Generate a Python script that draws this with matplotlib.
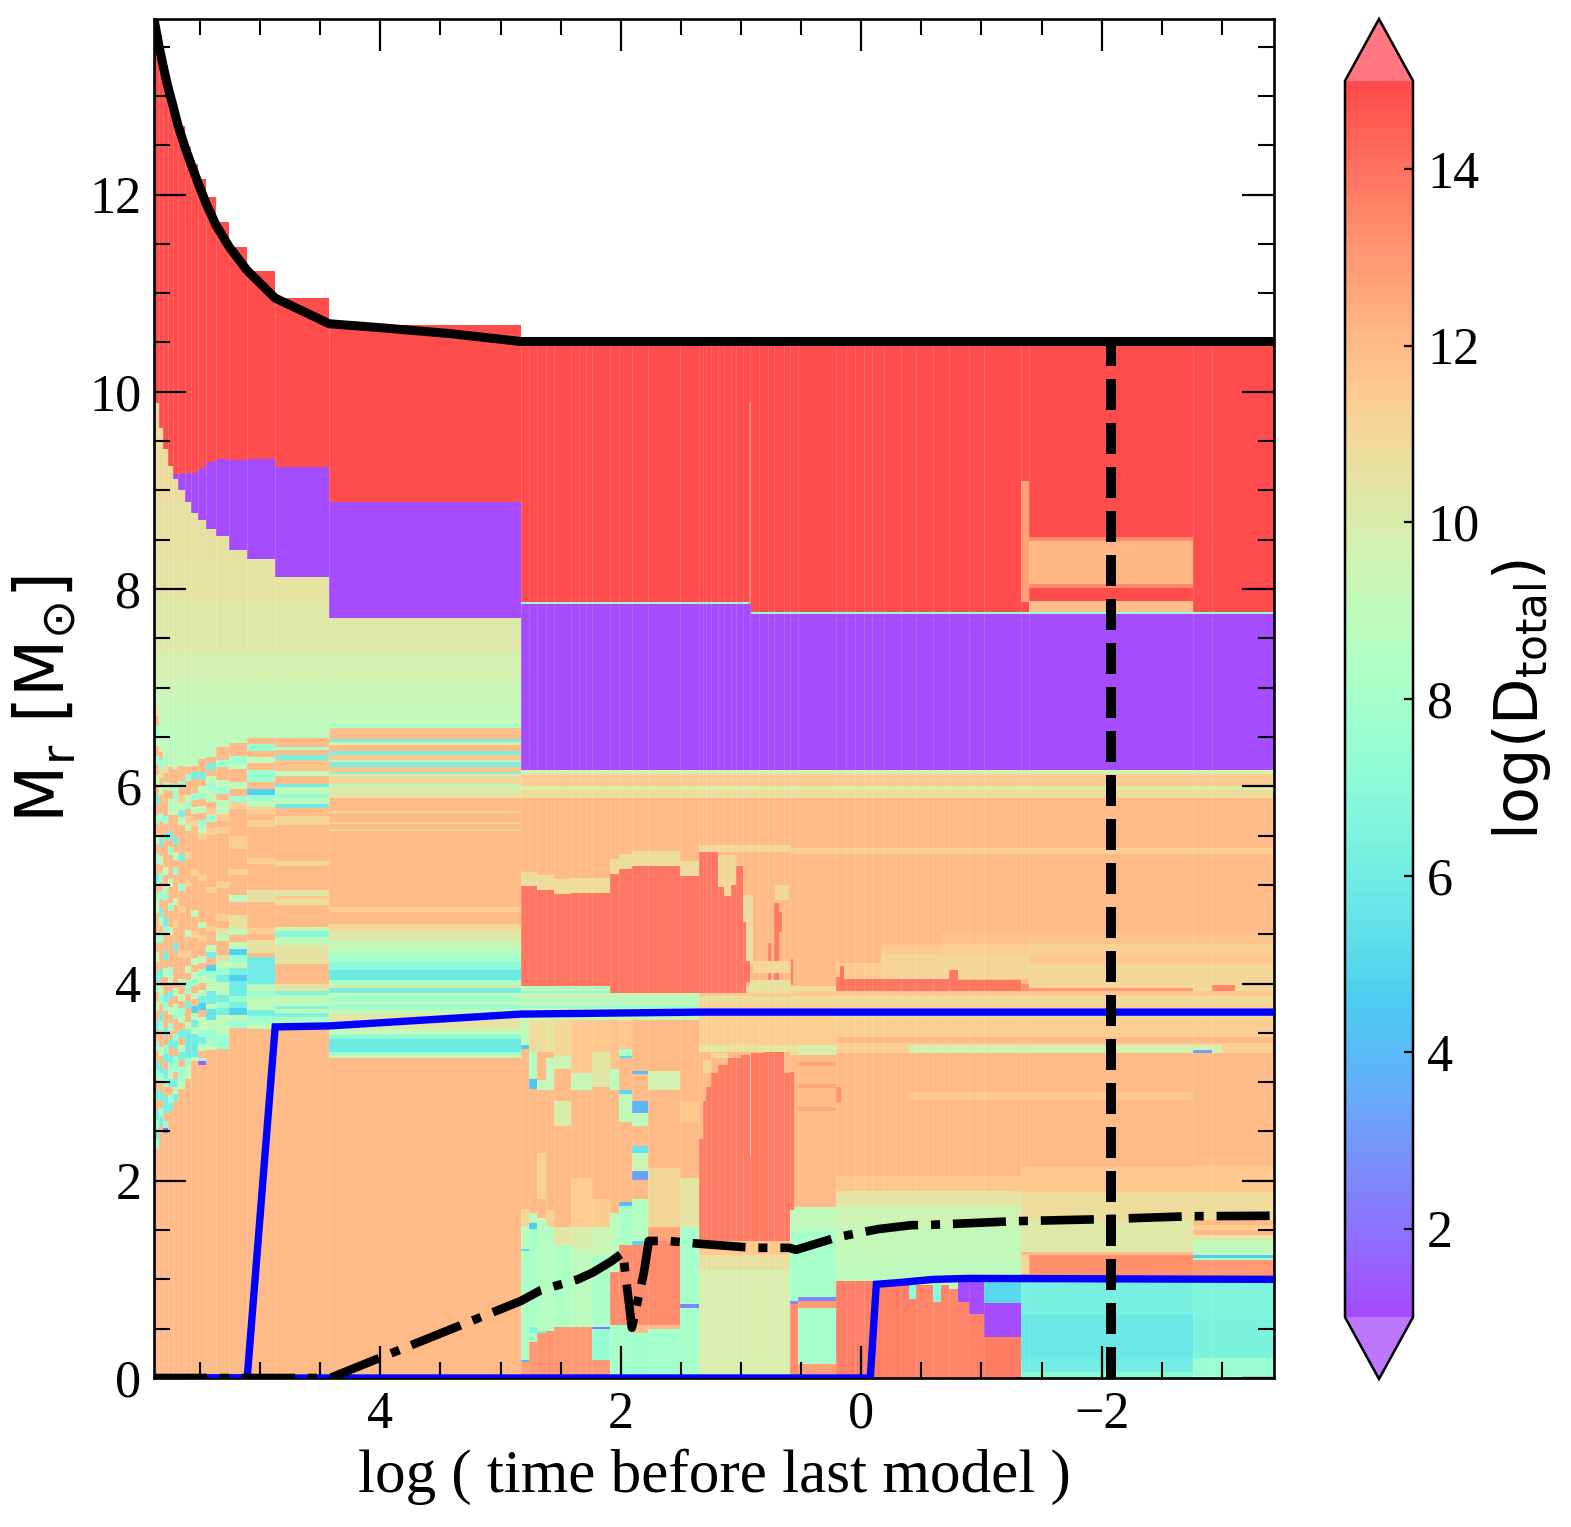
import numpy as np
import matplotlib
matplotlib.use('Agg')
import matplotlib.pyplot as plt
from matplotlib.ticker import MultipleLocator

plt.rcParams['font.family'] = ['Liberation Serif', 'DejaVu Sans']
plt.rcParams['mathtext.fontset'] = 'dejavusans'
plt.rcParams['axes.unicode_minus'] = True

# ---------------- line data ----------------
SURF_T = [5.883, 5.842, 5.808, 5.767, 5.725, 5.683, 5.625, 5.575, 5.517, 5.45, 5.367, 5.258, 5.108, 4.875, 4.425, 4.0, 3.42, 2.833, -3.433]
SURF_M = [13.78, 13.51, 13.31, 13.09, 12.90, 12.70, 12.48, 12.31, 12.12, 11.91, 11.69, 11.47, 11.23, 10.95, 10.69, 10.65, 10.59, 10.51, 10.51]
CO_T = [5.883, 5.108, 4.875, 4.425, 2.833, 1.35, -3.433]
CO_M = [0, 0, 3.56, 3.57, 3.69, 3.71, 3.71]
HE_T = [5.883, -0.075, -0.125, -0.333, -0.6, -0.9, -3.433]
HE_M = [0, 0, 0.95, 0.97, 1.0, 1.01, 1.0]
CORE_T = [5.883, 4.42, 2.833, 2.667, 2.358, 2.233, 2.083, 1.983, 1.908, 1.808, 1.767, 1.608, 1.333, 0.9, 0.6, 0.542, 0.192, -0.142, -0.417, -0.525, -1.275, -2.0, -2.725, -3.433]
CORE_M = [0, 0, 0.78, 0.89, 1.0, 1.07, 1.18, 1.27, 0.51, 1.07, 1.39, 1.39, 1.36, 1.32, 1.32, 1.30, 1.43, 1.51, 1.55, 1.55, 1.59, 1.61, 1.64, 1.645]
MARK_T = -2.08

# ---------------- diffusion map: left columns ----------------
LEFT_T = [5.883, 5.842, 5.808, 5.767, 5.725, 5.683, 5.625, 5.575, 5.517, 5.45, 5.367, 5.258, 5.108, 4.875, 4.425, 2.833]
LEFT_SURFACE = [13.78, 13.51, 13.31, 13.09, 12.90, 12.70, 12.48, 12.31, 12.16, 11.98, 11.72, 11.47, 11.22, 10.95, 10.68]
LEFT_RED_BOT = [9.89, 9.63, 9.42, 9.25, 9.17, 9.17, 9.18, 9.18, 9.23, 9.29, 9.32, 9.31, 9.32, 9.24, 8.88]
LEFT_PURPLE_BOT = [9.89, 9.63, 9.42, 9.25, 9.12, 9.00, 8.88, 8.77, 8.70, 8.61, 8.54, 8.40, 8.30, 8.12, 7.71]
LEFT_STRIPE_TOP = [6.81, 6.44, 6.39, 6.28, 6.25, 6.28, 6.27, 6.28, 6.28, 6.30, 6.40, 6.51, 6.49]
LEFT_STRIPE_BOT = [2.32, 2.47, 2.52, 2.63, 2.80, 2.93, 3.03, 3.14, 3.18, 3.33, 3.34, 3.48, 3.54]
STRIPE_CODES = {'p': 12.0, 'a': 7.6, 'c': 6.2, 'g': 9.0, 'y': 10.6, 'l': 11.3, 'b': 4.8}
LEFT_STRIPES = [
    'ypagpapgpcpapgpapcpagppapgpcapgpcpapcapcpcaca',
    'gpaypgppappcpgpapapcgpapppcpgapcappgpcapcpacp',
    'gaypgpppapcpppgpgappcappcpgppcappcpacpcapccpa',
    'gppapggppcpapppgppappgppppagpcpgpapcpcagcpacp',
    'gppgaggpppcpgpapppgpplppcpppppgpgappacpaapcgc',
    'gppaplgcgppppcpppapplppppplpppgpgpagpcpgcpaag',
    'gpappgaplgppplppplppppppgpplpgpaapcppgcpccagg',
    'gpcppapgplpppppplpppppgpplpppgpgapgpbgcgpcggp',
    'ppcpgapgpaglppppplppppppgplppgpagpgcbpggacgpa',
    'pcpgaggplaplpppppppplppppplppgcpbaggccgaggaag',
    'ppappgapgglplppppppplpppplpygppygacggcacgggaa',
    'gppagppgpalppppllppplpppgppyygpgbagcbggacbgap',
    'papgpaapbaglplppppplppppyypppplpyyppggagaggcag',
]
YELLOW_GREEN_BOTTOM = [9.6, 8.9, 8.3, 7.88, 7.37, 7.07, 6.86, 6.66, 6.46, 6.0]
YELLOW_GREEN_VALUE = [10.9, 10.8, 10.6, 10.5, 10.2, 9.8, 9.5, 9.2, 8.95, 8.8]
# (m_bottom, value), read downwards
COLUMN_13_TOP = 6.49
COLUMN_13_BANDS = [(6.40, 12), (6.37, 8), (6.32, 12), (6.27, 6.3), (6.15, 11.8), (6.10, 9), (6.02, 12),
                   (5.99, 6), (5.92, 9), (5.88, 7.5), (5.82, 9), (5.78, 6), (5.70, 12.0), (5.61, 11), (5.24, 12.0),
                   (5.19, 11), (4.95, 12.0), (4.89, 10.3), (4.86, 11.5), (4.80, 10.8), (4.57, 12.0), (4.53, 9.5),
                   (4.47, 6.8), (4.39, 9), (4.20, 10.6), (4.00, 12.0), (3.92, 10.5), (3.88, 6.5), (3.77, 9),
                   (3.74, 6.5), (3.70, 9), (3.66, 6.5), (3.56, 8.5), (0, 12.0)]
COLUMN_14_TOP = 6.63
COLUMN_14_BANDS = [(6.59, 8), (6.53, 11.8), (6.48, 12), (6.45, 6.3), (6.42, 10), (6.36, 12), (6.32, 6.3), (6.27, 11.5),
                   (6.25, 10), (6.20, 6.3), (6.14, 11.7), (6.12, 6.5), (6.10, 10), (6.02, 11), (5.95, 9.7), (5.88, 10.3),
                   (5.75, 12), (5.73, 11), (5.64, 12), (5.62, 11), (5.57, 12), (5.55, 11), (4.78, 12), (4.73, 11.4),
                   (4.60, 12), (4.53, 11), (4.43, 10.2), (4.32, 9.2), (4.22, 8), (4.14, 7), (4.04, 5.9), (3.99, 8),
                   (3.95, 10.2), (3.90, 6.2), (3.86, 9), (3.82, 7.5), (3.78, 9), (3.74, 7.5), (3.69, 9), (3.54, 10.5),
                   (3.48, 9), (3.44, 7), (3.31, 5.9), (3.28, 7.5), (3.24, 9.5), (0, 12)]
LEFT_SPOTS = [(5.108, 4.875, 4.00, 4.27, 6.0), (5.258, 5.108, 3.87, 4.03, 6.0), (5.45, 5.367, 3.63, 3.74, 5.5),
              (5.517, 5.45, 3.17, 3.21, 1.5), (5.808, 5.767, 2.48, 2.54, 1.5), (5.625, 5.517, 3.25, 3.49, 6.0)]

# ---------------- diffusion map: right of t = 2.83 ----------------
UPPER_BANDS = [(6.12, 9.6), (6.0, 11.4), (5.96, 10), (5.88, 10.8), (3.97, 12.0)]
ENVELOPE_PATCHES = [(2.833, -3.433, 7.85, 10.51, 14.9), (0.92, -3.433, 7.75, 7.85, 14.9),
                    (2.833, 0.92, 6.17, 7.85, 1.0), (0.92, -3.433, 6.17, 7.75, 1.0),
                    (2.833, 0.92, 7.85, 7.865, 7.5), (0.92, -3.433, 7.75, 7.765, 7.5),
                    (0.935, 0.915, 7.85, 9.9, 13.7),
                    (-1.325, -1.392, 7.87, 9.1, 12.8), (-1.392, -2.758, 8.01, 8.53, 12.1), (-1.392, -2.758, 8.49, 8.53, 13.4),
                    (-1.392, -2.758, 8.01, 8.05, 13.4), (-1.392, -2.758, 7.765, 7.88, 11.9)]
BELOW_RED_STRIPES_A = [(3.92, 9), (3.90, 7), (3.85, 9.5), (3.82, 8), (3.78, 9.5), (3.75, 7.5), (3.63, 9.5)]
BELOW_RED_STRIPES_B = [(3.92, 10.8), (3.87, 11.5), (3.80, 10.8), (3.63, 11.2)]
RED_BLOCK_T = [2.833, 2.694, 2.556, 2.417, 2.092, 2.014, 1.908, 1.778, 1.506, 1.353]
RED_BLOCK_TOP = [4.985, 4.95, 4.91, 4.92, 5.11, 5.16, 5.19, 5.19, 5.09]
RED_BLOCK_BOT = [3.97, 3.97, 3.97, 3.97, 3.90, 3.90, 3.90, 3.90, 3.90]
LOWER_COLUMNS = [
    (2.833, 2.764, [(3.38, 9.0), (3.34, 4.6), (1.71, 12.0), (1.53, 11.0), (1.31, 8.8), (1.29, 5), (0.18, 8.4), (0.16, 3.5), (0, 12.8)]),
    (2.764, 2.694, [(3.31, 10.8), (3.03, 8.6), (2.93, 4.2), (1.67, 12.0), (1.57, 9), (1.51, 4.6), (0.52, 8), (0.46, 6.5), (0.36, 8), (0, 13)]),
    (2.694, 2.625, [(3.31, 10.8), (3.02, 12.0), (2.92, 9), (2.28, 12.0), (1.82, 11.2), (1.62, 12.0), (0.48, 8.6), (0.46, 6.5), (0, 13.1)]),
    (2.625, 2.556, [(3.31, 10.5), (3.24, 12.0), (2.92, 9.2), (1.7, 12.0), (1.53, 11.2), (0.48, 8.6), (0, 13.1)]),
    (2.556, 2.417, [(3.27, 11), (3.13, 9.5), (2.81, 12.0), (2.56, 10), (1.53, 12.0), (1.35, 10.5), (0.52, 8.4), (0, 13)]),
    (2.417, 2.236, [(3.09, 11.5), (2.92, 9.3), (2.03, 12.0), (1.53, 11.4), (1.3, 10), (0.52, 8.8), (0, 13)]),
    (2.236, 2.092, [(3.31, 11.5), (2.95, 10.4), (1.82, 12.0), (1.53, 11.4), (1.25, 9.5), (0.52, 8.2), (0.50, 2), (0.18, 7.4), (0, 13)]),
    (2.092, 2.014, [(3.13, 11.8), (2.92, 8.8), (1.67, 12.0), (1.07, 8.8), (0.54, 13.3), (0, 8)]),
    (2.014, 1.908, [(3.34, 11.5), (3.27, 8), (3.24, 5), (2.92, 12.0), (2.88, 5), (2.6, 9), (1.78, 12.0), (1.74, 4), (1.35, 8.2), (0.54, 13.3), (0, 7.9)]),
    (1.908, 1.778, [(3.11, 12.0), (3.08, 4.2), (2.81, 12.0), (2.69, 3.8), (2.56, 9), (2.35, 12.0), (2.28, 5.5), (2.1, 9.5), (2.01, 3.2), (1.82, 12.0), (1.39, 8.6), (1.35, 5), (0.54, 13.3), (0.46, 12), (0, 7.8)]),
    (1.778, 1.506, [(3.11, 12.0), (2.92, 9.8), (2.13, 12.0), (1.53, 11), (1.39, 12.6), (0.54, 13.3), (0.5, 12), (0, 7.9)]),
    (1.506, 1.353, [(2.81, 12.0), (2.6, 11.5), (2.03, 12.0), (1.53, 10.5), (0.75, 8), (0.71, 2.5), (0, 8.1)]),
    (1.353, 0.592, [(3.38, 11.3), (3.31, 10.5), (1.39, 12.0), (1.25, 11.5), (1.10, 10.6), (0, 9.9)]),
    (0.592, 0.528, [(3.38, 11.3), (3.28, 10.6), (1.73, 12.0), (1.5, 9), (0.78, 8), (0.75, 2.5), (0, 13.3)]),
    (0.528, 0.208, [(3.38, 11.3), (3.28, 9.9), (3.2, 12.0), (3.16, 12.6), (2.98, 12.0), (2.94, 12.6), (2.75, 12.0), (2.71, 12.6), (1.73, 12.0), (1.5, 9), (0.82, 8), (0.78, 2.5), (0.71, 13), (0.14, 8), (0, 12.8)]),
]
ARC_T = [1.353, 1.319, 1.292, 1.25, 1.194, 1.111, 1.0, 0.917, 0.806, 0.639, 0.592]
ARC_TOP = [2.42, 2.81, 2.95, 3.09, 3.17, 3.24, 3.28, 3.30, 3.31, 3.09]
ARC_RED_BOTTOM = 1.39
ARC_HALO = [(1.319, 1.25, 3.09, 3.22, 11), (1.25, 1.111, 3.24, 3.30, 11), (1.111, 0.806, 3.31, 3.36, 10.6), (0.925, 0.915, 2.25, 3.3, 12.0)]
TOP_RED_T = [1.353, 1.194, 1.139, 1.083, 1.042, 0.986, 0.958, 0.922]
TOP_RED_TOP = [5.33, 4.98, 4.89, 5.0, 5.19, 4.62, 4.23]
TOP_RED_BOT = [3.90, 3.90, 3.90, 3.90, 3.90, 3.90, 4.02]
MIDDLE_FEATURES = [
    (1.353, 0.592, 5.33, 5.40, 11), (0.592, -3.433, 5.31, 5.37, 11.3), (1.194, 1.042, 4.85, 5.3, 11), (1.042, 0.986, 4.9, 5.2, 11.4),
    (0.986, 0.90, 4.2, 4.9, 10.8), (0.90, 0.592, 4.11, 4.23, 11), (0.922, 0.592, 3.90, 4.04, 10.6),
    (0.72, 0.60, 4.85, 5.0, 11), (0.778, 0.75, 4.23, 4.41, 13.7), (0.778, 0.75, 4.04, 4.11, 13.7),
    (0.722, 0.681, 4.23, 4.82, 13.7), (0.722, 0.681, 4.04, 4.11, 13.7), (0.681, 0.661, 4.52, 4.73, 13.7),
    (0.583, 0.567, 3.98, 4.25, 13.6), (0.592, 0.556, 1.7, 3.1, 13.7), (0.208, -0.167, 4.05, 4.21, 11.4),
    (-0.167, -0.667, 4.30, 4.40, 11.6), (-0.167, -0.667, 4.05, 4.30, 11.1), (-0.667, -1.392, 4.40, 4.51, 11.8),
    (-0.667, -1.392, 4.30, 4.40, 11.3), (-0.667, -1.392, 4.05, 4.30, 11.0),
    (-1.392, -3.433, 4.40, 4.51, 11.7), (-1.392, -3.433, 4.30, 4.40, 11.2), (-1.392, -3.433, 4.20, 4.30, 11.5),
    (-1.392, -3.433, 3.95, 4.20, 11.0), (-1.392, -2.758, 3.92, 3.95, 13), (-2.917, -3.108, 3.92, 3.98, 13.5),
    (0.208, 0.175, 3.92, 4.07, 13.8), (0.175, 0.142, 3.92, 4.18, 13.8), (0.142, -0.733, 3.92, 4.05, 13.8),
    (-0.733, -0.808, 3.92, 4.14, 13.8), (-0.808, -1.325, 3.92, 4.04, 13.8), (-1.325, -1.392, 3.92, 4.00, 13.3),
    (-0.4, -3.0, 3.30, 3.38, 9.7), (-2.758, -2.917, 3.30, 3.33, 3.2), (0.208, -3.433, 3.40, 3.46, 12.0),
    (0.208, -3.433, 3.63, 3.71, 11), (-0.4, -2.758, 2.82, 2.90, 11.6),
]
RIGHT_GRADIENT_T = [0.208, -1.325]
RIGHT_GRADIENT = [(3.30, 11.3), (2.05, 12.0), (1.9, 11.5), (1.75, 10.5), (1.55, 9.6), (1.2, 9.1), (1.0, 8.9), (0, 8.9)]
SALMON_T = [0.208, -0.192, -0.40, -0.458, -0.60, -0.667, -0.733, -0.808, -0.90, -1.017, -1.325]
SALMON_TOP = [0.98, 0.94, 0.80, 0.94, 0.77, 0.94, 0.90, 0.77, 0.65, 0.42]
SALMON_LOW = [13.6, 13.6, 13.6, 13.5, 13.5, 13.5, 13.5, 13.5, 13.6, 13.7]
SALMON_GAP_VALUE = [8.9, 8.9, 7.0, 8.9, 7.0, 8.9, 8.9, 1.0, 1.0, 1.0]
RIGHT_A_T = [-1.325, -2.758]
RIGHT_A = [(3.30, 11.3), (2.14, 12.0), (1.89, 11.6), (1.6, 10.8), (1.28, 10.2), (1.25, 12), (1.02, 13.2), (0.64, 6.2), (0.19, 5.8), (0.06, 6.1), (0, 7)]
RIGHT_B_T = [-2.758, -3.433]
RIGHT_B = [(3.30, 11.3), (2.16, 12.0), (1.89, 11.5), (1.6, 10.8), (1.55, 12), (1.5, 11.4), (1.45, 12), (1.4, 10.5), (1.25, 9), (1.22, 4.5), (1.2, 8), (1.02, 13), (0.64, 6.5), (0.2, 6.4), (0, 7.6)]
BLOCK_SPOTS = [(-1.017, -1.325, 0.76, 0.98, 5.0), (0.208, 0.17, 2.8, 2.95, 13.2), (-1.325, -1.392, 1.05, 1.25, 11)]
SEAM_T = [2.764, 2.694, 2.625, 2.556, 2.417, 2.35, 2.29, 2.236, 2.092, 2.014, 1.908, 1.778, 1.506, 1.353, 1.319, 1.292, 1.25, 1.194, 1.14, 1.083, 1.042, 0.986, 0.922, 0.85, 0.778, 0.722, 0.639, 0.592, 0.528, 0.208, 0.13, 0.05, -0.02, -0.09, -0.19, -0.33, -0.458, -0.6, -0.733, -0.9, -1.017, -1.325, -1.392, -2.758, -2.917]
CBAR_TICKS = [2, 4, 6, 8, 10, 12, 14]

# ---------------- assemble the value grid ----------------
patches = []
def paint(t0, t1, m0, m1, v):
    if m1 > m0:
        patches.append((round(max(t0, t1), 3), round(min(t0, t1), 3), round(m0, 3), round(m1, 3), v))
def bands(t0, t1, top, rows):
    m = top
    for bot, v in rows:
        paint(t0, t1, bot, m, v)
        m = bot

for i in range(15):
    t0, t1 = LEFT_T[i], LEFT_T[i + 1]
    paint(t0, t1, LEFT_RED_BOT[i], LEFT_SURFACE[i], 14.9)
    paint(t0, t1, LEFT_PURPLE_BOT[i], LEFT_RED_BOT[i], 1.0)
    floor = LEFT_STRIPE_TOP[i] if i < 13 else (COLUMN_13_TOP if i == 13 else COLUMN_14_TOP)
    m = LEFT_PURPLE_BOT[i]
    for b, v in zip(YELLOW_GREEN_BOTTOM, YELLOW_GREEN_VALUE):
        b2 = max(b, floor)
        if b2 < m:
            paint(t0, t1, b2, m, v)
            m = b2
    if i < 13:
        codes = LEFT_STRIPES[i]
        edges = np.linspace(LEFT_STRIPE_TOP[i], LEFT_STRIPE_BOT[i], len(codes) + 1)
        for k, c in enumerate(codes):
            paint(t0, t1, edges[k + 1], edges[k], STRIPE_CODES[c])
        paint(t0, t1, 0, LEFT_STRIPE_BOT[i], 12.0)
    elif i == 13:
        bands(t0, t1, COLUMN_13_TOP, COLUMN_13_BANDS)
    else:
        bands(t0, t1, COLUMN_14_TOP, COLUMN_14_BANDS)
for s in LEFT_SPOTS:
    paint(*s)

for s in ENVELOPE_PATCHES:
    paint(*s)
bands(2.833, -3.433, 6.17, UPPER_BANDS)
bands(2.833, 1.353, 3.97, BELOW_RED_STRIPES_A)
bands(1.353, 0.208, 3.97, BELOW_RED_STRIPES_B)
bands(0.208, -3.433, 3.97, BELOW_RED_STRIPES_B)
for i in range(9):
    paint(RED_BLOCK_T[i], RED_BLOCK_T[i + 1], RED_BLOCK_TOP[i], RED_BLOCK_TOP[i] + 0.15, 10.8)
    paint(RED_BLOCK_T[i], RED_BLOCK_T[i + 1], RED_BLOCK_BOT[i], RED_BLOCK_TOP[i], 13.9)
for t0, t1, rows in LOWER_COLUMNS:
    bands(t0, t1, 3.63, rows)
bands(RIGHT_GRADIENT_T[0], RIGHT_GRADIENT_T[1], 3.63, RIGHT_GRADIENT)
bands(RIGHT_A_T[0], RIGHT_A_T[1], 3.63, RIGHT_A)
bands(RIGHT_B_T[0], RIGHT_B_T[1], 3.63, RIGHT_B)
for i in range(10):
    paint(ARC_T[i], ARC_T[i + 1], ARC_RED_BOTTOM, ARC_TOP[i], 13.7)
for s in ARC_HALO:
    paint(*s)
for s in MIDDLE_FEATURES:
    paint(*s)
for i in range(7):
    paint(TOP_RED_T[i], TOP_RED_T[i + 1], TOP_RED_BOT[i], TOP_RED_TOP[i], 13.9)
for i in range(10):
    t0, t1 = SALMON_T[i], SALMON_T[i + 1]
    paint(t0, t1, 0, SALMON_TOP[i], SALMON_LOW[i])
    paint(t0, t1, SALMON_TOP[i], 1.0, SALMON_GAP_VALUE[i])
for s in BLOCK_SPOTS:
    paint(*s)

xe = np.array(sorted({p[0] for p in patches} | {p[1] for p in patches}, reverse=True))
ye = np.array(sorted({p[2] for p in patches} | {p[3] for p in patches}))
Z = np.full((len(ye) - 1, len(xe) - 1), np.nan)
xasc = -xe
for t0, t1, m0, m1, v in patches:
    i0, i1 = np.searchsorted(xasc, -t0), np.searchsorted(xasc, -t1)
    j0, j1 = np.searchsorted(ye, m0), np.searchsorted(ye, m1)
    Z[j0:j1, i0:i1] = v
Z = np.ma.masked_invalid(Z)

# ---------------- figure ----------------
W, H = 1571, 1527
fig = plt.figure(figsize=(W / 100, H / 100), dpi=100)
ax = fig.add_axes([154 / W, 1 - 1378 / H, 1120 / W, 1359 / H])
cmap = plt.get_cmap('rainbow').resampled(128).with_extremes(over=(1, 0.24, 0.30), under=(0.635, 0.24, 1))
mesh = ax.pcolormesh(xe, ye, Z, cmap=cmap, vmin=1, vmax=15, alpha=0.7, shading='flat',
                     antialiased=False, linewidth=0, zorder=1)
ax.vlines(LEFT_T[1:-1], 0, LEFT_SURFACE[1:], color='white', lw=0.7, alpha=0.16, zorder=1.5)
ax.vlines([LEFT_T[-1]], 0, 10.51, color='white', lw=0.7, alpha=0.16, zorder=1.5)
ax.vlines(SEAM_T, 0, 10.51, color='white', lw=0.7, alpha=0.13, zorder=1.5)

ax.plot(CO_T, CO_M, color='#0000ff', lw=5.3, solid_joinstyle='miter', zorder=3)
ax.plot(HE_T, HE_M, color='#0000ff', lw=5.3, solid_joinstyle='miter', zorder=3)
ax.plot(SURF_T, SURF_M, color='black', lw=6.5, zorder=4)
ax.plot(CORE_T, CORE_M, color='black', lw=6.2, dashes=(6.16, 1.5, 1.05, 1.5), dash_capstyle='butt', zorder=4)
ax.plot([MARK_T, MARK_T], [0, 10.51], color='black', lw=7.2, dashes=(3.1, 1.3), dash_capstyle='butt', zorder=4)

ax.set_xlim(5.883, -3.433)
ax.set_ylim(0, 13.78)
ax.xaxis.set_major_locator(MultipleLocator(2))
ax.xaxis.set_minor_locator(MultipleLocator(0.5))
ax.yaxis.set_major_locator(MultipleLocator(2))
ax.yaxis.set_minor_locator(MultipleLocator(0.5))
ax.tick_params(which='major', direction='in', length=23, width=1.6, top=True, right=True, labelsize=37.5, pad=9)
ax.tick_params(which='minor', direction='in', length=11.5, width=1.5, top=True, right=True)
for s in ax.spines.values():
    s.set_linewidth(1.9)
ax.set_axisbelow(False)
ax.set_xlabel('log ( time before last model )', fontsize=44, labelpad=7)
ax.set_ylabel(r'$\mathrm{M_r\ [M_{\odot}]}$', fontsize=48, labelpad=8)

cax = fig.add_axes([1345 / W, 1 - 1379 / H, 68 / W, 1360 / H])
cb = fig.colorbar(mesh, cax=cax, extend='both', extendfrac=0.05)
cb.set_ticks(CBAR_TICKS)
cb.ax.minorticks_off()
cb.ax.tick_params(direction='in', length=6.5, width=1.6, labelsize=37.5, pad=10)
cb.outline.set_linewidth(1.8)
cb.set_label(r'$\log(\mathrm{D_{total}})$', fontsize=43.5, labelpad=8)
fig.savefig('out.png', dpi=100)
